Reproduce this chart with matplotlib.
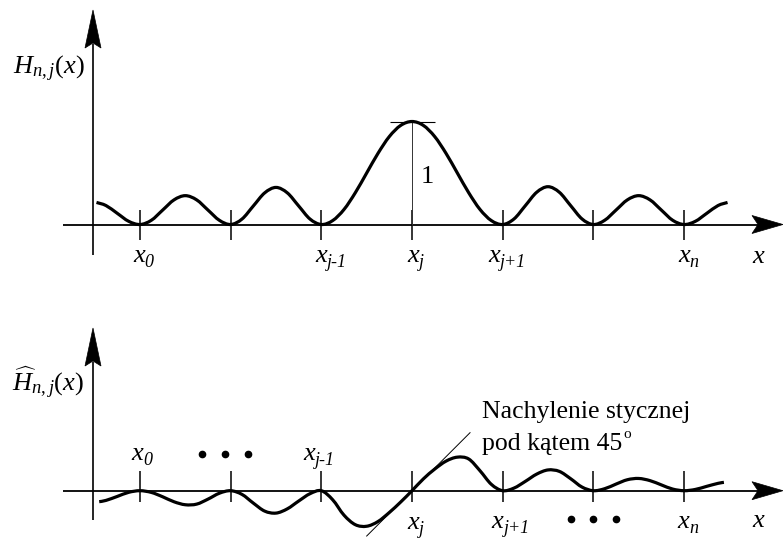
import matplotlib
matplotlib.use("Agg")
import matplotlib.pyplot as plt
import matplotlib.transforms as mtransforms
from matplotlib.patches import Polygon, PathPatch
from matplotlib.path import Path

plt.rcParams['mathtext.fontset'] = 'custom'
plt.rcParams['mathtext.rm'] = 'Liberation Serif'
plt.rcParams['mathtext.it'] = 'Liberation Serif:italic'
plt.rcParams['mathtext.bf'] = 'Liberation Serif:bold'
plt.rcParams['font.family'] = ['Liberation Serif', 'DejaVu Serif']

# ---------------- data ----------------
# node positions (in units of node spacing) and their subscripts
node_pos = [0, 1, 2, 3, 4, 5, 6]
node_subs = ['0', '', 'j-1', 'j', 'j+1', '', 'n']

# top panel: H_{n,j}(x)
top_u = [-0.48, -0.375, -0.25, -0.125, 0.0, 0.125, 0.25, 0.375, 0.5, 0.625, 0.75, 0.875,
         1.0, 1.125, 1.25, 1.375, 1.5, 1.625, 1.75, 1.875,
         2.0, 2.125, 2.25, 2.375, 2.5, 2.625, 2.75, 2.875,
         3.0, 3.125, 3.25, 3.375, 3.5, 3.625, 3.75, 3.875,
         4.0, 4.125, 4.25, 4.375, 4.5, 4.625, 4.75, 4.875,
         5.0, 5.125, 5.25, 5.375, 5.5, 5.625, 5.75, 5.875,
         6.0, 6.125, 6.25, 6.375, 6.48]
top_h = [0.214, 0.184, 0.108, 0.031, 0.0, 0.041, 0.14, 0.239, 0.28, 0.239, 0.14, 0.041,
         0.0, 0.053, 0.18, 0.307, 0.36, 0.307, 0.18, 0.053,
         0.0, 0.038, 0.146, 0.309, 0.5, 0.691, 0.854, 0.962,
         1.0, 0.962, 0.854, 0.691, 0.5, 0.309, 0.146, 0.038,
         0.0, 0.054, 0.183, 0.313, 0.367, 0.313, 0.183, 0.054,
         0.0, 0.041, 0.14, 0.239, 0.28, 0.239, 0.14, 0.041,
         0.0, 0.031, 0.108, 0.184, 0.214]

# bottom panel: \hat H_{n,j}(x)
bot_u = [-0.45, -0.375, -0.25, -0.125, 0.0, 0.125, 0.25, 0.375, 0.5, 0.625, 0.75, 0.875,
         1.0, 1.125, 1.25, 1.375, 1.5, 1.625, 1.75, 1.875,
         2.0, 2.125, 2.25, 2.375, 2.5, 2.625, 2.75, 2.875,
         3.0, 3.125, 3.25, 3.375, 3.5, 3.625, 3.75, 3.875,
         4.0, 4.125, 4.25, 4.375, 4.5, 4.625, 4.75, 4.875,
         5.0, 5.125, 5.25, 5.375, 5.5, 5.625, 5.75, 5.875,
         6.0, 6.125, 6.25, 6.375, 6.44]
bot_h = [-0.121, -0.107, -0.063, -0.018, 0.0, -0.019, -0.067, -0.122, -0.155, -0.148, -0.093, -0.028,
         0.0, -0.041, -0.137, -0.225, -0.247, -0.200, -0.114, -0.033,
         0.0, -0.10, -0.27, -0.375, -0.392, -0.34, -0.24, -0.125,
         0.0, 0.13, 0.238, 0.326, 0.37, 0.35, 0.22, 0.07,
         0.0, 0.029, 0.103, 0.183, 0.229, 0.213, 0.132, 0.040,
         0.0, 0.022, 0.073, 0.121, 0.135, 0.111, 0.064, 0.018,
         0.0, 0.014, 0.048, 0.081, 0.092]

peak_node = 3
peak_value = 1.0
tangent_slope = 1.0          # 45 degrees
tangent_span = [-0.5, 0.64]  # relative to x_j

# ---------------- layout ----------------
W, H = 783, 539
X0_PX, DX_PX = 140.0, 90.67

fig = plt.figure(figsize=(W / 100, H / 100), dpi=100)
fig.patch.set_facecolor('white')


class Panel:
    def __init__(self, rows, base, scale):
        r0, r1 = rows
        self.base, self.scale = base, scale
        ax = fig.add_axes([0, 1 - r1 / H, 1, (r1 - r0) / H])
        ax.set_xlim(-X0_PX / DX_PX, (W - X0_PX) / DX_PX)
        ax.set_ylim((base - r1) / scale, (base - r0) / scale)
        ax.axis('off')
        self.ax = ax

    def ux(self, px):
        return (px - X0_PX) / DX_PX

    def vy(self, py):
        return (self.base - py) / self.scale


def smooth_curve(ax, xs, ys, lw):
    pts = list(zip(xs, ys))
    n = len(pts)
    verts = [pts[0]]
    codes = [Path.MOVETO]
    for i in range(n - 1):
        p0 = pts[i - 1] if i > 0 else pts[i]
        p1 = pts[i]
        p2 = pts[i + 1]
        p3 = pts[i + 2] if i + 2 < n else pts[i + 1]
        c1 = (p1[0] + (p2[0] - p0[0]) / 6, p1[1] + (p2[1] - p0[1]) / 6)
        c2 = (p2[0] - (p3[0] - p1[0]) / 6, p2[1] - (p3[1] - p1[1]) / 6)
        verts += [c1, c2, p2]
        codes += [Path.CURVE4] * 3
    ax.add_patch(PathPatch(Path(verts, codes), facecolor='none', edgecolor='black',
                           lw=lw, capstyle='butt', joinstyle='round', clip_on=False, zorder=4))


def arrowhead(ax, x, y, verts):
    tr = mtransforms.Affine2D() + mtransforms.ScaledTranslation(x, y, ax.transData)
    ax.add_patch(Polygon(verts, closed=True, facecolor='black', edgecolor='black',
                         lw=0.5, transform=tr, clip_on=False, zorder=5))


def draw_axes(p, yaxis_bottom_px, yaxis_tip_px, tick_px):
    ax = p.ax
    xa = p.ux(93)
    # vertical axis
    ax.plot([xa, xa], [p.vy(yaxis_bottom_px), p.vy(yaxis_tip_px + 34)], color='black',
            lw=1.2, solid_capstyle='butt', clip_on=False)
    arrowhead(ax, xa, p.vy(yaxis_tip_px), [(0, 0), (-8, -38), (0, -33), (8, -38)])
    # horizontal axis
    ax.plot([p.ux(63), p.ux(760)], [0, 0], color='black', lw=1.3,
            solid_capstyle='butt', clip_on=False)
    arrowhead(ax, p.ux(783), 0, [(0, 0), (-31, 9), (-25, 0), (-31, -9)])
    # ticks
    ax.vlines(node_pos, p.vy(tick_px[1]), p.vy(tick_px[0]), color='black', lw=1.1)


def node_label(p, node, sub, dx_px, base_px, size=19, subsize=13):
    ax = p.ax
    t = ax.text(p.ux(X0_PX + node * DX_PX + dx_px), p.vy(base_px), 'x', fontsize=size,
                style='italic', ha='left', va='baseline')
    if sub:
        ax.annotate(sub, xy=(1, 0), xycoords=t, xytext=(0, 0), textcoords='offset points',
                    fontsize=subsize, style='italic', ha='left', va='baseline')


# ---------------- top panel ----------------
top = Panel((0, 270), 224.5, 103.0)
draw_axes(top, 255, 10, (210, 240))
smooth_curve(top.ax, top_u, top_h, 2.3)
top.ax.hlines(peak_value, top.ux(390), top.ux(435), color='black', lw=0.8)
top.ax.vlines(peak_node, 0, peak_value, color='#333333', lw=0.7)
top.ax.text(top.ux(427), top.vy(177), '1', fontsize=19, ha='center', va='center')
top.ax.text(top.ux(12.7), top.vy(74), r'$H_{n,j}(x)$', fontsize=19, ha='left', va='baseline')

top_label_dx = [-7, 0, -6.5, -5, -14.5, 0, -6]
for n, s, d in zip(node_pos, node_subs, top_label_dx):
    if s:
        node_label(top, n, s, d, 262)
top.ax.text(top.ux(752.7), top.vy(263), 'x', fontsize=19, style='italic', ha='left', va='baseline')

# ---------------- bottom panel ----------------
bot = Panel((270, 539), 490.7, 90.67)
draw_axes(bot, 520, 328, (470.7, 501.7))
tu = [peak_node + tangent_span[0], peak_node + tangent_span[1]]
bot.ax.plot(tu, [tangent_slope * s for s in tangent_span], color='black', lw=0.7,
            clip_on=False, zorder=3)
smooth_curve(bot.ax, bot_u, bot_h, 2.3)
bot.ax.text(bot.ux(11.7), bot.vy(391.7), r'$\widehat{H}_{n,j}(x)$', fontsize=19,
            ha='left', va='baseline')

bot_label_dx = [-8.3, 0, -17.7, -4.7, -11, 0, -6.3]
bot_label_base = [460, 0, 460, 529, 528, 0, 528]
for n, s, d, b in zip(node_pos, node_subs, bot_label_dx, bot_label_base):
    if s:
        node_label(bot, n, s, d, b)
bot.ax.text(bot.ux(752.7), bot.vy(527), 'x', fontsize=19, style='italic', ha='left', va='baseline')

# ellipsis dots
dots_top_center = bot.ux(225)
bot.ax.plot([dots_top_center - 0.25, dots_top_center, dots_top_center + 0.25],
            [bot.vy(454)] * 3, 'o', color='black', ms=4.5, clip_on=False)
bot.ax.plot([4.75, 5.0, 5.25], [bot.vy(519)] * 3, 'o', color='black', ms=4.5, clip_on=False)

# annotation text
bot.ax.text(bot.ux(481.7), bot.vy(418.3), 'Nachylenie stycznej', fontsize=18.5,
            ha='left', va='baseline')
t2 = bot.ax.text(bot.ux(481.7), bot.vy(450), 'pod kątem 45', fontsize=18.5,
                 ha='left', va='baseline')
bot.ax.annotate('o', xy=(1, 1), xycoords=t2, xytext=(0.8, 3.5), textcoords='offset points',
                fontsize=11, ha='left', va='top')

fig.savefig('out.png', dpi=100, facecolor='white')
